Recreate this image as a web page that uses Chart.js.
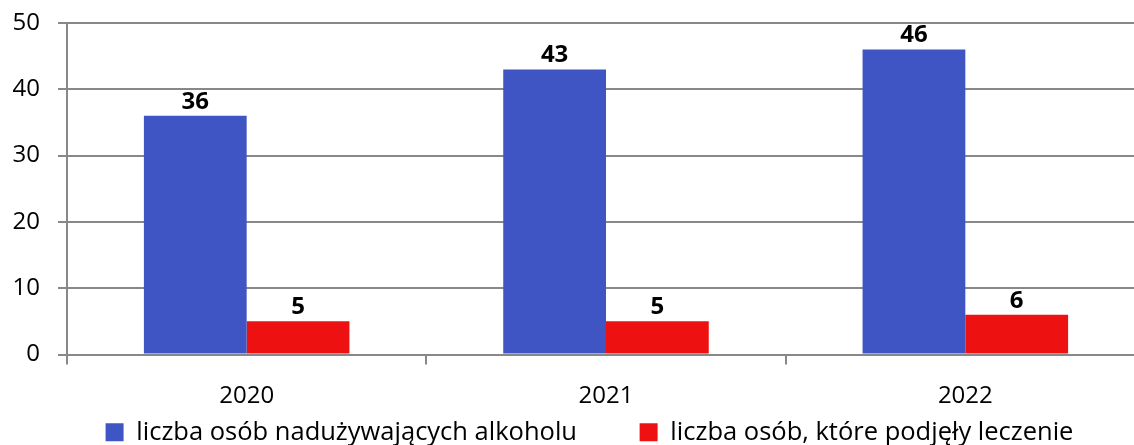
<!DOCTYPE html>
<html>
<head>
<meta charset="utf-8">
<script src="https://cdn.jsdelivr.net/npm/chart.js@4"></script>
<style>
  html, body { margin: 0; padding: 0; background: #fff; overflow: hidden; }
  #wrap { width: 1145px; height: 455px; }
</style>
</head>
<body>
<div id="wrap"><canvas id="alko"></canvas></div>
<script>
const years = ['2020', '2021', '2022'];
const abusers = [36, 43, 46];
const treated = [5, 5, 6];
const yTicks = [0, 10, 20, 30, 40, 50];

const FONT = "'Open Sans', 'Noto Sans', sans-serif";

// etykiety wartości nad słupkami
const valueLabels = {
  id: 'valueLabels',
  afterDatasetsDraw(chart) {
    const c = chart.ctx;
    c.save();
    c.font = 'bold 24px ' + FONT;
    c.fillStyle = '#000';
    c.textAlign = 'center';
    c.textBaseline = 'bottom';
    chart.data.datasets.forEach((ds, i) => {
      chart.getDatasetMeta(i).data.forEach((bar, j) => {
        c.fillText(ds.data[j], bar.x, bar.y - 2);
      });
    });
    c.restore();
  }
};

// legenda przesunięta trochę w prawo
const legendShift = {
  id: 'legendShift',
  afterLayout(chart) {
    chart.legend.left += 17;
    chart.legend.right += 17;
  }
};

var ctx = document.getElementById('alko').getContext('2d');

const chart = new Chart(ctx, {
  type: 'bar',
  data: {
    labels: years,
    datasets: [
      {
        label: 'liczba osób nadużywających alkoholu',
        data: abusers,
        backgroundColor: '#4055C4',
        barPercentage: 1,
        categoryPercentage: 0.572,
      },
      {
        label: 'liczba osób, które podjęły leczenie',
        data: treated,
        backgroundColor: '#EE1111',
        barPercentage: 1,
        categoryPercentage: 0.572,
      },
    ]
  },
  options: {
    responsive: true,
    maintainAspectRatio: false,
    animation: false,
    layout: { padding: { top: 23, left: 0, right: 0, bottom: 0 } },
    scales: {
      x: {
        afterFit(scale) { scale.height = 62; },
        grid: {
          offset: true,
          drawOnChartArea: false,
          drawTicks: true,
          tickLength: 10,
          color: '#888',
          lineWidth: 2,
        },
        border: { display: false },
        ticks: {
          color: '#000',
          font: { size: 24, family: FONT },
          padding: 17,
        },
      },
      y: {
        min: 0,
        max: 50,
        afterBuildTicks(axis) {
          axis.ticks = yTicks.map(v => ({ value: v }));
        },
        afterFit(scale) {
          scale.width = 67;
          scale.paddingTop = 0;
          scale.paddingBottom = 0;
        },
        grid: {
          color: '#888',
          lineWidth: 2,
          tickLength: 9,
        },
        border: { color: '#888', width: 2 },
        ticks: {
          color: '#000',
          font: { size: 24, family: FONT },
          padding: 18,
        },
      },
    },
    plugins: {
      legend: {
        position: 'bottom',
        labels: {
          color: '#000',
          font: { size: 25.5, family: FONT },
          boxWidth: 18,
          boxHeight: 18,
          padding: 3,
          // odstęp między pozycjami legendy
          generateLabels(chart) {
            const items = Chart.defaults.plugins.legend.labels.generateLabels(chart);
            items[0].text += '         ';
            return items;
          },
        },
      },
      tooltip: { enabled: false },
    },
  },
  plugins: [valueLabels, legendShift],
});
</script>
</body>
</html>
